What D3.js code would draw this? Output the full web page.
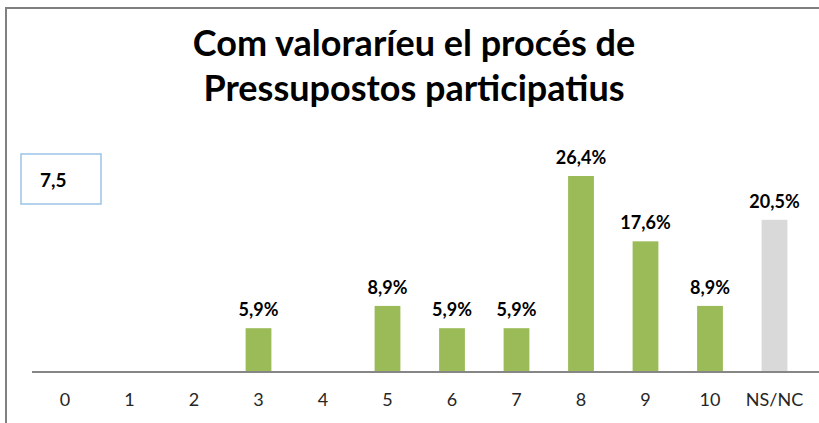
<!doctype html>
<html>
<head>
<meta charset="utf-8">
<title>Pressupostos participatius</title>
<style>
  body { margin: 0; background: #fff; }
  svg { font-family: Lato, "Open Sans", sans-serif; display: block; }
</style>
</head>
<body>
<div id="chart"></div>
<script src="https://d3js.org/d3.v7.min.js"></script>
<script>
const categories = ["0", "1", "2", "3", "4", "5", "6", "7", "8", "9", "10", "NS/NC"];
const values = [0, 0, 0, 5.9, 0, 8.9, 5.9, 5.9, 26.4, 17.6, 8.9, 20.5];
const titleLines = ["Com valoraríeu el procés de", "Pressupostos participatius"];
const average = "7,5";

const W = 819, H = 423;
const svg = d3.select("#chart").append("svg")
  .attr("width", W).attr("height", H);

// chart frame (only top and left edges visible)
svg.append("path")
  .attr("d", "M6,423 V8 H819")
  .attr("fill", "none")
  .attr("stroke", "#808080")
  .attr("stroke-width", 2);

// title
svg.append("g").selectAll("text")
  .data(titleLines)
  .enter().append("text")
  .attr("x", 414)
  .attr("y", (d, i) => 56 + i * 45)
  .attr("text-anchor", "middle")
  .style("font-size", "36px")
  .style("font-weight", "bold")
  .text(d => d);

var x = d3.scaleBand()
  .domain(categories)
  .range([32.75, 806.75])
  .paddingInner(0.6)
  .paddingOuter(0.3);

var y = d3.scaleLinear()
  .domain([0, 26.4])
  .range([372, 176]);

var data = categories.map((c, i) => ({cat: c, val: values[i]}));

// bars
svg.append("g").selectAll("rect")
  .data(data)
  .enter().append("rect")
  .attr("x", d => x(d.cat))
  .attr("y", d => y(d.val))
  .attr("width", x.bandwidth())
  .attr("height", d => y(0) - y(d.val))
  .attr("fill", d => d.cat == "NS/NC" ? "#d9d9d9" : "#9bbb59");

// value labels
svg.append("g").selectAll("text")
  .data(data.filter(d => d.val > 0))
  .enter().append("text")
  .attr("x", d => x(d.cat) + x.bandwidth() / 2)
  .attr("y", d => y(d.val) - 12)
  .attr("text-anchor", "middle")
  .style("font-size", "18px")
  .style("font-weight", "bold")
  .text(d => d.val.toFixed(1).replace(".", ",") + "%");

// x axis
var xAxis = svg.append("g")
  .attr("transform", "translate(0,372)")
  .call(d3.axisBottom(x).tickSize(0).tickPadding(21));
xAxis.select(".domain").attr("d", "M32,0H819").attr("stroke", "#868686").attr("stroke-width", 2);
xAxis.selectAll("text")
  .style("font-family", "Lato, 'Open Sans', sans-serif")
  .style("font-size", "18px")
  .attr("fill", "#262626");

// average box
svg.append("rect")
  .attr("x", 21).attr("y", 154)
  .attr("width", 80).attr("height", 50)
  .attr("fill", "#fff")
  .attr("stroke", "#9dc3e6")
  .attr("stroke-width", 1.5);
svg.append("text")
  .attr("x", 40).attr("y", 187)
  .style("font-size", "19px")
  .style("font-weight", "bold")
  .text(average);
</script>
</body>
</html>
